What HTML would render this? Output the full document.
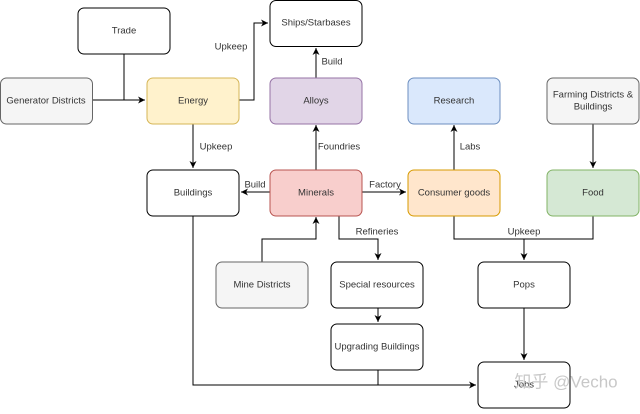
<!DOCTYPE html>
<html><head><meta charset="utf-8"><style>
body{margin:0;background:#fff;width:640px;height:409px;overflow:hidden}
svg text{font-family:"Liberation Sans",sans-serif;font-size:9.5px;fill:#333;text-anchor:middle;dominant-baseline:middle}
</style></head><body>
<svg width="640" height="409" viewBox="0 0 640 409">
<defs><marker id="a" markerWidth="8" markerHeight="8" refX="7" refY="4" orient="auto" markerUnits="userSpaceOnUse"><path d="M0,0.5 L7,4 L0,7.5 L2,4z" fill="#000"/></marker></defs>
<g fill="none" stroke="#000" stroke-width="1">
<path d="M124,54V100"/>
<path d="M92,100H145" marker-end="url(#a)"/>
<path d="M239,100H254V23H268" marker-end="url(#a)"/>
<path d="M316,78V48" marker-end="url(#a)"/>
<path d="M193,123V168" marker-end="url(#a)"/>
<path d="M316,170V125" marker-end="url(#a)"/>
<path d="M270,192H241" marker-end="url(#a)"/>
<path d="M362,192H406" marker-end="url(#a)"/>
<path d="M454,170V125" marker-end="url(#a)"/>
<path d="M593,123V168" marker-end="url(#a)"/>
<path d="M339,215V239H378V260" marker-end="url(#a)"/>
<path d="M262,262V239H316V217" marker-end="url(#a)"/>
<path d="M454,215V239H593V215"/>
<path d="M524,239V260" marker-end="url(#a)"/>
<path d="M378,308V322" marker-end="url(#a)"/>
<path d="M524,308V360" marker-end="url(#a)"/>
<path d="M193,215V385H476" marker-end="url(#a)"/>
<path d="M378,370V385"/>
</g>
<g stroke-width="1">
<rect x="78" y="8" width="92" height="46" rx="6" fill="#fff" stroke="#000"/>
<rect x="0.5" y="78" width="92" height="46" rx="6" fill="#f5f5f5" stroke="#666"/>
<rect x="147" y="78" width="92" height="46" rx="6" fill="#fff2cc" stroke="#d6b656"/>
<rect x="270" y="0.5" width="92" height="46" rx="6" fill="#fff" stroke="#000"/>
<rect x="270" y="78" width="92" height="46" rx="6" fill="#e1d5e7" stroke="#9673a6"/>
<rect x="408" y="78" width="92" height="46" rx="6" fill="#dae8fc" stroke="#6c8ebf"/>
<rect x="547" y="78" width="92" height="46" rx="6" fill="#f5f5f5" stroke="#666"/>
<rect x="147" y="170" width="92" height="46" rx="6" fill="#fff" stroke="#000"/>
<rect x="270" y="170" width="92" height="46" rx="6" fill="#f8cecc" stroke="#b85450"/>
<rect x="408" y="170" width="92" height="46" rx="6" fill="#ffe6cc" stroke="#d79b00"/>
<rect x="547" y="170" width="92" height="46" rx="6" fill="#d5e8d4" stroke="#82b366"/>
<rect x="216" y="262" width="92" height="46" rx="6" fill="#f5f5f5" stroke="#666"/>
<rect x="331" y="262" width="92" height="46" rx="6" fill="#fff" stroke="#000"/>
<rect x="478" y="262" width="92" height="46" rx="6" fill="#fff" stroke="#000"/>
<rect x="331" y="324" width="92" height="46" rx="6" fill="#fff" stroke="#000"/>
<rect x="478" y="362" width="92" height="46" rx="6" fill="#fff" stroke="#000"/>
</g>
<text x="124" y="31">Trade</text>
<text x="46" y="101">Generator Districts</text>
<text x="193" y="101">Energy</text>
<text x="316" y="23">Ships/Starbases</text>
<text x="316" y="101">Alloys</text>
<text x="454" y="101">Research</text>
<text x="593" y="95">Farming Districts &amp;</text>
<text x="593" y="107">Buildings</text>
<text x="193" y="193">Buildings</text>
<text x="316" y="193">Minerals</text>
<text x="454" y="193">Consumer goods</text>
<text x="593" y="193">Food</text>
<text x="262" y="285">Mine Districts</text>
<text x="377" y="285">Special resources</text>
<text x="524" y="285">Pops</text>
<text x="377" y="347">Upgrading Buildings</text>
<text x="524" y="385">Jobs</text>
<text x="231" y="47">Upkeep</text>
<text x="332" y="62">Build</text>
<text x="216" y="147">Upkeep</text>
<text x="339" y="147">Foundries</text>
<text x="470" y="147">Labs</text>
<text x="255" y="185">Build</text>
<text x="385" y="185">Factory</text>
<text x="377" y="232">Refineries</text>
<text x="524" y="232">Upkeep</text>
<text x="566" y="383" style="font-size:17px;fill:#c8c8c8;font-family:'Liberation Sans','Noto Sans CJK SC',sans-serif">知乎 @Vecho</text>
</svg>
</body></html>
